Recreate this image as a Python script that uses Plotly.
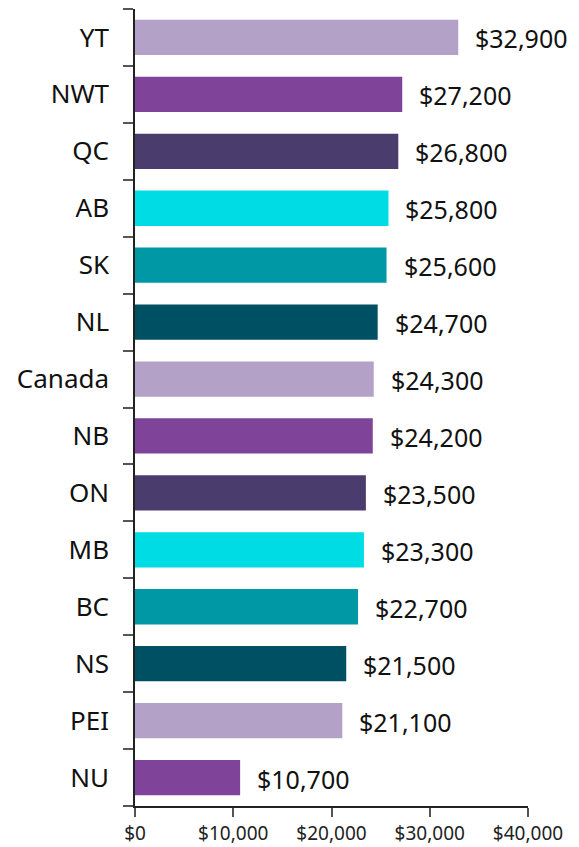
import plotly.graph_objects as go

regions = ["YT", "NWT", "QC", "AB", "SK", "NL", "Canada", "NB", "ON", "MB", "BC", "NS", "PEI", "NU"]
values = [32900, 27200, 26800, 25800, 25600, 24700, 24300, 24200, 23500, 23300, 22700, 21500, 21100, 10700]
palette = ["#B3A1C8", "#7F4499", "#4A3D6E", "#00DCE4", "#0098A4", "#005063"]
colors = [palette[i % len(palette)] for i in range(len(regions))]
tick_vals = [0, 10000, 20000, 30000, 40000]
tick_text = ["$0", "$10,000", "$20,000", "$30,000", "$40,000"]

FONT = "Noto Sans"

fig = go.Figure()
fig.add_trace(go.Bar(
    x=values, y=regions, orientation="h",
    marker=dict(color=colors, line=dict(width=0)),
    width=0.62,
    hoverinfo="x+y",
))

for r, v in zip(regions, values):
    fig.add_annotation(
        x=v, y=r, text=f"${v:,}", showarrow=False,
        xanchor="left", xshift=15, yshift=-1,
        font=dict(family=FONT, size=25, color="#111111"),
    )

# page body has an 8px default margin, so the figure is sized to fit the window
fig.update_layout(
    width=571, height=839,
    margin=dict(l=127, r=51, t=1, b=41),
    paper_bgcolor="white", plot_bgcolor="white",
    showlegend=False,
    font=dict(family=FONT, color="#111111"),
    xaxis=dict(
        range=[0, 40000], tickvals=tick_vals, ticktext=tick_text,
        showgrid=False, zeroline=False, automargin=False,
        showline=True, linecolor="#222222", linewidth=1.5,
        ticks="outside", ticklen=9, tickcolor="#555555", tickwidth=1.5,
        tickfont=dict(family=FONT, size=19, color="#222222"),
        fixedrange=True,
    ),
    yaxis=dict(
        categoryorder="array", categoryarray=regions[::-1],
        showgrid=False, zeroline=False, automargin=False,
        showline=True, linecolor="#222222", linewidth=1.5,
        ticks="outside", ticklen=10, tickcolor="#555555", tickwidth=1.5,
        tickson="boundaries",
        ticklabelstandoff=19,
        tickfont=dict(family=FONT, size=26, color="#111111"),
        fixedrange=True,
    ),
)

fig.write_html("out.html")
